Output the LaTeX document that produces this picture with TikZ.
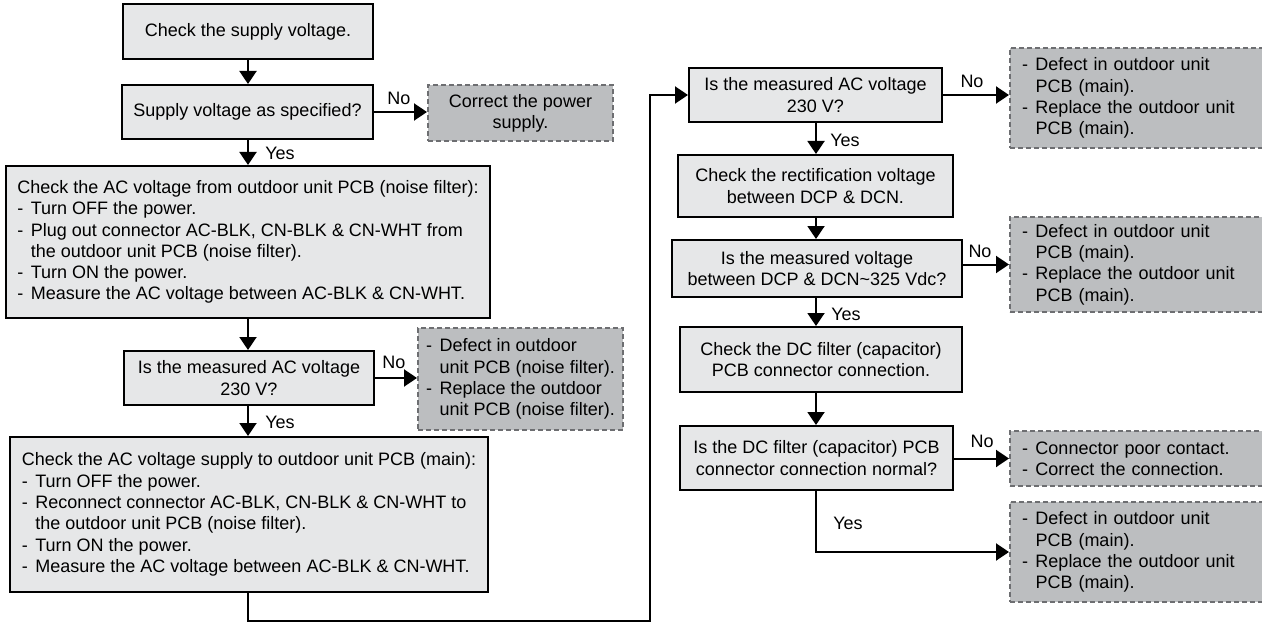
\documentclass[tikz,border=0pt]{standalone}
\usepackage{fontspec}
\setmainfont{Liberation Sans}
\usetikzlibrary{arrows.meta}
\definecolor{procfill}{HTML}{E6E7E8}
\definecolor{endfill}{HTML}{BCBEC0}
\definecolor{enddraw}{HTML}{6D6E71}
\newcommand\dsh{\makebox[13.5pt][l]{-}}
\newcommand\ind{\hspace*{13.5pt}}
\begin{document}
\begin{tikzpicture}[x=1pt,y=-1pt,
  every node/.style={font=\fontsize{18pt}{21.3pt}\selectfont},
  proc/.style={draw=black, line width=2pt, fill=procfill, inner sep=0pt},
  endbox/.style={draw=enddraw, line width=2pt, fill=endfill, dash pattern=on 5pt off 3pt, inner sep=0pt},
  endtxt/.style={endbox, inner xsep=12pt, text width=229pt, align=left, minimum width=253pt},
  arr/.style={line width=2pt, -{Triangle[length=13pt,width=17pt]}},
  lbl/.style={inner sep=0pt}]
\useasboundingbox (0,0) rectangle (1262,623);
\coordinate (lc) at (248,0);
\coordinate (rc) at (816,0);
\coordinate (lp) at (650,621);

% left column
\node[proc, minimum width=250pt, minimum height=55pt, align=center] (b1) at (248,31.5) {Check the supply voltage.};
\node[proc, minimum width=251pt, minimum height=54pt, align=center] (b2) at (247.5,112) {Supply voltage as specified?};
\node[endbox, minimum width=185pt, minimum height=56pt, align=center] (n1) at (520.5,113) {Correct the power\\supply.};
\node[proc, minimum width=484pt, minimum height=152pt, align=left] (b3) at (248,242) {Check the AC voltage from outdoor unit PCB (noise filter):\\
\dsh Turn OFF the power.\\
\dsh Plug out connector AC-BLK, CN-BLK \& CN-WHT from\\
\ind the outdoor unit PCB (noise filter).\\
\dsh Turn ON the power.\\
\dsh Measure the AC voltage between AC-BLK \& CN-WHT.};
\node[proc, minimum width=250pt, minimum height=54pt, align=center] (b4) at (249,378) {Is the measured AC voltage\\230 V?};
\node[endbox, minimum width=205pt, minimum height=102pt, align=left] (n2) at (520.5,379) {\dsh Defect in outdoor\\
\ind unit PCB (noise filter).\\
\dsh Replace the outdoor\\
\ind unit PCB (noise filter).};
\node[proc, minimum width=478pt, minimum height=155pt, align=left] (b5) at (249,514.5) {Check the AC voltage supply to outdoor unit PCB (main):\\
\dsh Turn OFF the power.\\
\dsh Reconnect connector AC-BLK, CN-BLK \& CN-WHT to\\
\ind the outdoor unit PCB (noise filter).\\
\dsh Turn ON the power.\\
\dsh Measure the AC voltage between AC-BLK \& CN-WHT.};

% right column
\node[proc, minimum width=253pt, minimum height=54pt, align=center] (b6) at (815.5,95) {Is the measured AC voltage\\230 V?};
\node[endtxt, minimum height=100pt] (n3) at (1136.5,98) {\dsh Defect in outdoor unit\\
\ind PCB (main).\\
\dsh Replace the outdoor unit\\
\ind PCB (main).};
\node[proc, minimum width=275pt, minimum height=62pt, align=center] (b7) at (815.5,186) {Check the rectification voltage\\between DCP \& DCN.};
\node[proc, minimum width=290pt, minimum height=57pt, align=center] (b8) at (817,268.5) {Is the measured voltage\\between DCP \& DCN\textasciitilde 325 Vdc?};
\node[endtxt, minimum height=95pt] (n4) at (1136.5,264.5) {\dsh Defect in outdoor unit\\
\ind PCB (main).\\
\dsh Replace the outdoor unit\\
\ind PCB (main).};
\node[proc, minimum width=282pt, minimum height=65pt, align=center] (b9) at (821,359.5) {Check the DC filter (capacitor)\\PCB connector connection.};
\node[proc, minimum width=273pt, minimum height=64pt, align=center] (b10) at (816.5,458) {Is the DC filter (capacitor) PCB\\connector connection normal?};
\node[endtxt, minimum height=55pt] (n5) at (1136.5,458.5) {\dsh Connector poor contact.\\
\dsh Correct the connection.};
\node[endtxt, minimum height=100pt] (n6) at (1136.5,552) {\dsh Defect in outdoor unit\\
\ind PCB (main).\\
\dsh Replace the outdoor unit\\
\ind PCB (main).};

% connectors left
\draw[arr] (b1.south -| lc) -- (b2.north -| lc);
\draw[arr] (b2.east) -- (n1.west |- b2.east);
\draw[arr] (b2.south -| lc) -- (b3.north -| lc);
\draw[arr] (b3.south -| lc) -- (b4.north -| lc);
\draw[arr] (b4.east) -- (n2.west |- b4.east);
\draw[arr] (b4.south -| lc) -- (b5.north -| lc);
\draw[arr] (b5.south -| lc) |- (lp) |- (b6.west);

% connectors right
\draw[arr] (b6.east) -- (b6.east -| n3.west);
\draw[arr] (b6.south -| rc) -- (b7.north -| rc);
\draw[arr] (b7.south -| rc) -- (b8.north -| rc);
\draw[arr] (b8.east |- n4.west) -- (n4.west);
\draw[arr] (b8.south -| rc) -- (b9.north -| rc);
\draw[arr] (b9.south -| rc) -- (b10.north -| rc);
\draw[arr] (b10.east |- n5.west) -- (n5.west);
\draw[arr] (b10.south -| rc) |- (n6.west);

% labels
\node[lbl] (l1) at (399,98) {No};
\node[lbl] (l2) at (280,153) {Yes};
\node[lbl] (l3) at (394,362) {No};
\node[lbl] (l4) at (280,422) {Yes};
\node[lbl] (l5) at (972,81) {No};
\node[lbl] (l6) at (845,140) {Yes};
\node[lbl] (l7) at (980,251) {No};
\node[lbl] (l8) at (846,314) {Yes};
\node[lbl] (l9) at (982,441) {No};
\node[lbl] (l10) at (848,523) {Yes};
\end{tikzpicture}
\end{document}
